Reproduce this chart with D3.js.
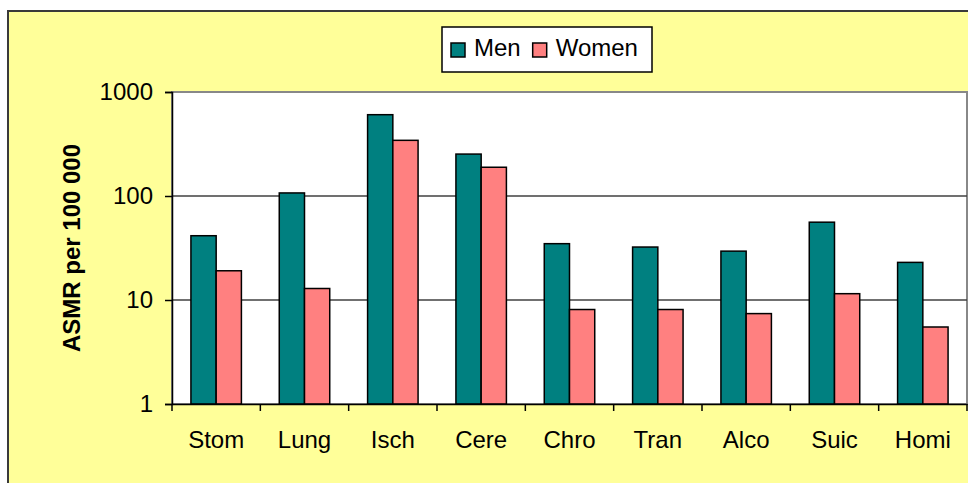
<!DOCTYPE html>
<html>
<head>
  <meta charset="utf-8">
  <title>ASMR by cause</title>
  <script src="https://cdn.jsdelivr.net/npm/d3@7/dist/d3.min.js"></script>
  <style type="text/css">
    body { margin: 0; background: #fff; }
    svg { display: block; font-family: "Liberation Sans", Arial, sans-serif; }
    .bar { stroke: #000; stroke-width: 1.5; }
    .grid line { stroke: #404040; stroke-width: 1.5; }
  </style>
</head>
<body>
  <div id="chart"></div>
  <script type="text/javascript">
    // data
    let categories = ['Stom', 'Lung', 'Isch', 'Cere', 'Chro', 'Tran', 'Alco', 'Suic', 'Homi'];
    let series = ['Men', 'Women'];
    let men = [41.5, 107, 605, 253, 34.8, 32.3, 29.5, 56, 23];
    let women = [19.1, 12.9, 343, 189, 8.1, 8.1, 7.4, 11.5, 5.5];
    let yTicks = [1, 10, 100, 1000];
    let colors = ['#008080', '#FF8080'];

    let W = 968, H = 483;
    let plot = { left: 172, top: 92, right: 967, bottom: 404 };

    let svg = d3.select('#chart').append('svg')
      .attr('width', W)
      .attr('height', H);

    // chart area background + border
    svg.append('rect')
      .attr('x', 8).attr('y', 11)
      .attr('width', W + 10).attr('height', H + 10)
      .attr('fill', '#FFFF99')
      .attr('stroke', '#3a3a3a')
      .attr('stroke-width', 2);

    // plot area
    svg.append('rect')
      .attr('x', plot.left).attr('y', plot.top)
      .attr('width', plot.right - plot.left).attr('height', plot.bottom - plot.top)
      .attr('fill', '#fff')
      .attr('stroke', '#888')
      .attr('stroke-width', 2);

    let x0 = d3.scaleBand()
      .domain(categories)
      .range([plot.left, plot.right]);

    let x1 = d3.scaleBand()
      .domain(series)
      .range([0, x0.bandwidth()])
      .paddingOuter(0.75);

    let y = d3.scaleLog()
      .domain([1, 1000])
      .range([plot.bottom, plot.top]);

    // gridlines
    svg.append('g').attr('class', 'grid')
      .selectAll('line')
      .data(yTicks.slice(1, -1))
      .enter()
      .append('line')
      .attr('x1', plot.left).attr('x2', plot.right)
      .attr('y1', d => y(d)).attr('y2', d => y(d));

    // bars
    let rows = categories.map((c, i) => ({ cat: c, values: [men[i], women[i]] }));
    svg.append('g')
      .selectAll('g')
      .data(rows)
      .enter()
      .append('g')
      .attr('transform', d => `translate(${x0(d.cat)},0)`)
      .selectAll('rect')
      .data(d => d.values.map((v, j) => ({ s: series[j], v: v, j: j })))
      .enter()
      .append('rect')
      .attr('class', 'bar')
      .attr('x', d => x1(d.s))
      .attr('width', x1.bandwidth())
      .attr('y', d => y(d.v))
      .attr('height', d => y(1) - y(d.v))
      .attr('fill', d => colors[d.j]);

    // y axis
    let yAxis = svg.append('g')
      .attr('transform', `translate(${plot.left},0)`)
      .call(d3.axisLeft(y).tickValues(yTicks).tickFormat(d3.format('d')).tickSize(7).tickPadding(12));
    yAxis.select('.domain').attr('stroke', '#000').attr('stroke-width', 1.5);
    yAxis.selectAll('.tick line').attr('stroke', '#000').attr('stroke-width', 1.5);
    yAxis.selectAll('.tick text')
      .attr('font-size', 24)
      .attr('fill', '#000')
      .attr('font-family', '"Liberation Sans", Arial, sans-serif');

    // x axis
    let xAxis = svg.append('g')
      .attr('transform', `translate(0,${plot.bottom})`)
      .call(d3.axisBottom(x0).tickSize(0).tickPadding(27));
    xAxis.select('.domain').attr('stroke', '#000').attr('stroke-width', 1.5);
    xAxis.selectAll('.tick text')
      .attr('font-size', 24)
      .attr('fill', '#000')
      .attr('font-family', '"Liberation Sans", Arial, sans-serif');

    // category separators
    svg.append('g')
      .selectAll('line')
      .data(categories.concat(['end']))
      .enter()
      .append('line')
      .attr('x1', (d, i) => plot.left + i * x0.step())
      .attr('x2', (d, i) => plot.left + i * x0.step())
      .attr('y1', plot.bottom)
      .attr('y2', plot.bottom + 7)
      .attr('stroke', '#000')
      .attr('stroke-width', 1.5);

    // y title
    svg.append('text')
      .attr('transform', `translate(80,${(plot.top + plot.bottom) / 2}) rotate(-90)`)
      .attr('text-anchor', 'middle')
      .attr('font-size', 24)
      .attr('font-weight', 'bold')
      .text('ASMR per 100 000');

    // legend
    let legend = svg.append('g');
    legend.append('rect')
      .attr('x', 442).attr('y', 27)
      .attr('width', 210).attr('height', 45)
      .attr('fill', '#fff')
      .attr('stroke', '#000')
      .attr('stroke-width', 1.5);
    let lx = 451;
    series.forEach((s, i) => {
      legend.append('rect')
        .attr('x', lx).attr('y', 43)
        .attr('width', 14).attr('height', 14)
        .attr('fill', colors[i])
        .attr('stroke', '#000')
        .attr('stroke-width', 1.5);
      let t = legend.append('text')
        .attr('x', lx + 23).attr('y', 56)
        .attr('font-size', 24)
        .text(s);
      lx += 23 + t.node().getComputedTextLength() + 12;
    });
  </script>
</body>
</html>
